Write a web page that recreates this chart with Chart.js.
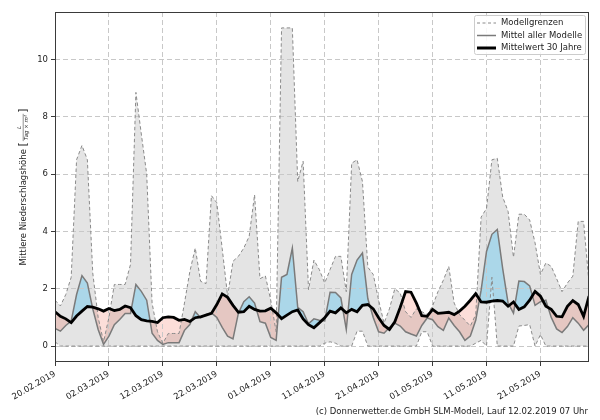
<!DOCTYPE html>
<html><head><meta charset="utf-8">
<script src="https://cdn.jsdelivr.net/npm/chart.js@4.4.1/dist/chart.umd.min.js"></script>
<style>html,body{margin:0;padding:0;background:#fff}</style>
</head><body>
<canvas id="c" width="600" height="420"></canvas>
<script>
// ---- data (one value per day, starting 20.02.2019) ----
const xTickDays   = [0,10,20,30,40,50,60,70,80,90];
const xTickLabels = ['20.02.2019','02.03.2019','12.03.2019','22.03.2019','01.04.2019','11.04.2019','21.04.2019','01.05.2019','11.05.2019','21.05.2019'];
const yTicks      = [0,2,4,6,8,10];

const upper = [1.6,1.4,1.8,2.4,6.5,7.0,6.5,2.55,1.0,0.15,
               1.0,2.15,2.15,2.15,2.85,8.85,7.4,6.0,1.5,0.5,
               0.1,0.44,0.44,0.44,1.5,2.6,3.42,2.26,2.18,5.25,
               5.0,3.4,1.75,2.96,3.13,3.42,3.83,5.28,2.35,2.45,
               1.6,0.5,11.1,11.1,11.1,5.74,6.45,1.97,3.0,2.67,
               2.2,2.67,3.13,3.13,1.9,6.38,6.5,5.74,2.75,2.5,
               1.6,0.8,1.3,2.0,1.85,1.2,1.0,1.3,1.2,1.1,
               1.4,1.9,2.3,2.78,1.5,1.1,0.9,0.7,1.1,4.5,
               4.8,6.5,6.55,5.2,4.7,3.1,4.6,4.6,4.4,3.6,
               2.5,2.9,2.78,2.35,1.9,2.2,2.44,4.35,4.35,2.2];

const lower = [0.15,0,0,0,0,0,0,0,0,0,
               0,0,0,0,0,0,0,0,0,0,
               0,0,0,0,0,0,0,0,0,0,
               0,0,0,0,0,0,0,0,0,0,
               0,0,0,0,0,0,0,0,0,0,
               0.1,0.15,0.1,0,0,0,0.52,0.52,0,0,
               0,0,0,0,0,0,0,0,0.5,0.5,
               0,0,0,0,0,0,0,0,0.1,0.2,
               0,2.4,0,0,0,0,0.7,0.72,0.75,0,
               0.4,0,0,0,0,0,0,0,0,0];

const modelMean = [0.62,0.52,0.72,0.87,1.8,2.46,2.2,1.3,0.58,0.06,
                   0.35,0.75,0.93,1.14,1.14,2.15,1.91,1.6,0.45,0.2,
                   0.06,0.12,0.12,0.12,0.55,0.75,1.2,0.99,1.1,1.16,
                   1.0,0.65,0.35,0.25,1.15,1.55,1.72,1.5,0.85,0.8,
                   0.3,0.2,2.4,2.5,3.42,1.35,1.2,0.78,0.95,0.9,
                   0.88,1.88,1.87,1.68,0.58,2.5,3.0,3.25,1.65,1.0,
                   0.5,0.45,0.65,0.8,0.7,0.5,0.42,0.35,0.72,0.98,
                   0.92,0.68,0.55,0.98,0.72,0.5,0.2,0.35,0.9,1.95,
                   3.3,3.9,4.07,2.7,1.5,1.15,2.27,2.25,2.1,1.42,
                   1.55,1.6,1.0,0.6,0.47,0.68,0.99,0.8,0.55,0.75];

const climMean = [1.2,1.04,0.95,0.82,1.05,1.22,1.38,1.36,1.3,1.22,
                  1.31,1.24,1.28,1.4,1.34,1.06,0.92,0.88,0.86,0.82,
                  0.99,1.02,1.0,0.9,0.93,0.86,0.99,1.02,1.08,1.14,
                  1.45,1.82,1.7,1.42,1.18,1.2,1.39,1.28,1.22,1.23,
                  1.32,1.16,0.96,1.08,1.2,1.26,0.95,0.75,0.64,0.81,
                  0.99,1.22,1.16,1.33,1.16,1.28,1.2,1.42,1.45,1.3,
                  0.99,0.72,0.58,0.85,1.35,1.9,1.88,1.5,1.06,1.04,
                  1.28,1.14,1.16,1.18,1.1,1.22,1.39,1.6,1.83,1.54,
                  1.53,1.57,1.59,1.57,1.39,1.54,1.28,1.37,1.6,1.91,
                  1.74,1.39,1.28,1.04,1.02,1.39,1.59,1.45,1.04,1.74];

const FONT = '"DejaVu Sans", sans-serif';
const FS = 8.5;
const toXY = arr => arr.map((v, i) => ({x: i, y: v}));

const framePlugin = {
  id: 'frame',
  afterDraw(chart) {
    const {ctx, chartArea: a} = chart;
    ctx.save();
    ctx.strokeStyle = '#3a3a3a';
    ctx.lineWidth = 1;
    ctx.strokeRect(Math.round(a.left) + 0.5, Math.round(a.top) + 0.5,
                   Math.round(a.right - a.left) - 1, Math.round(a.bottom - a.top) - 1);
    ctx.restore();
  }
};

const legendPlugin = {
  id: 'customLegend',
  afterDraw(chart) {
    const {ctx, chartArea: a} = chart;
    const items = [
      {text: 'Modellgrenzen', color: '#8a8a8a', width: 1, dash: [3, 2.5]},
      {text: 'Mittel aller Modelle', color: '#7a7a7a', width: 1.5, dash: []},
      {text: 'Mittelwert 30 Jahre', color: '#000', width: 3, dash: []}
    ];
    const bx = a.right - 115, by = a.top + 3, bw = 111, bh = 39;
    ctx.save();
    ctx.fillStyle = 'rgba(255,255,255,0.85)';
    ctx.strokeStyle = '#cccccc';
    ctx.lineWidth = 1;
    ctx.beginPath();
    if (ctx.roundRect) ctx.roundRect(bx + 0.5, by + 0.5, bw, bh, 2); else ctx.rect(bx + 0.5, by + 0.5, bw, bh);
    ctx.fill(); ctx.stroke();
    ctx.font = FS + 'px ' + FONT;
    ctx.textBaseline = 'middle';
    ctx.textAlign = 'left';
    items.forEach((it, i) => {
      const y = by + 8 + i * 12.5;
      ctx.beginPath();
      ctx.setLineDash(it.dash);
      ctx.strokeStyle = it.color;
      ctx.lineWidth = it.width;
      ctx.moveTo(bx + 3, y); ctx.lineTo(bx + 22, y);
      ctx.stroke();
      ctx.setLineDash([]);
      ctx.fillStyle = '#222';
      ctx.fillText(it.text, bx + 27, y);
    });
    ctx.restore();
  }
};

const yTitlePlugin = {
  id: 'yTitle',
  afterDraw(chart) {
    const {ctx, chartArea: a} = chart;
    const main = 'Mittlere Niederschlagshöhe ';
    const num = 'L', den = 'Tag × m²';
    ctx.save();
    ctx.translate(23, (a.top + a.bottom) / 2);
    ctx.rotate(-Math.PI / 2);
    ctx.fillStyle = '#222';
    ctx.textBaseline = 'middle';
    ctx.textAlign = 'left';
    ctx.font = FS + 'px ' + FONT;
    const wMain = ctx.measureText(main).width;
    ctx.font = '11px ' + FONT;
    const wBr = ctx.measureText('[').width;
    ctx.font = 'italic 5.5px ' + FONT;
    const wFrac = Math.max(ctx.measureText(num).width, ctx.measureText(den).width) + 2;
    const total = wMain + 2 * wBr + wFrac + 2;
    let x = -total / 2;
    ctx.font = FS + 'px ' + FONT;
    ctx.fillText(main, x, 0.5); x += wMain;
    ctx.font = '11px ' + FONT;
    ctx.fillText('[', x, 0); x += wBr + 1;
    ctx.font = 'italic 5.5px ' + FONT;
    ctx.textAlign = 'center';
    const cx = x + wFrac / 2;
    ctx.fillText(num, cx, -3.4);
    ctx.fillText(den, cx, 3.8);
    ctx.beginPath(); ctx.strokeStyle = '#222'; ctx.lineWidth = 0.5;
    ctx.moveTo(x, 0.2); ctx.lineTo(x + wFrac, 0.2); ctx.stroke();
    x += wFrac + 1;
    ctx.textAlign = 'left';
    ctx.font = '11px ' + FONT;
    ctx.fillText(']', x, 0);
    ctx.restore();
  }
};

const footerPlugin = {
  id: 'footer',
  afterDraw(chart) {
    const ctx = chart.ctx;
    ctx.save();
    ctx.font = FS + 'px ' + FONT;
    ctx.fillStyle = '#222';
    ctx.textAlign = 'right';
    ctx.textBaseline = 'middle';
    ctx.fillText('(c) Donnerwetter.de GmbH SLM-Modell, Lauf 12.02.2019 07 Uhr', 588, 412);
    ctx.restore();
  }
};

const gridCommon = {color: '#c8c8c8', lineWidth: 1, tickLength: 4, tickColor: '#3a3a3a', tickWidth: 1, tickBorderDash: []};

new Chart(document.getElementById('c'), {
  type: 'line',
  data: {
    datasets: [
      {label: 'Modellgrenzen', data: toXY(upper), borderColor: '#8a8a8a', borderWidth: 1, borderDash: [3.5, 2.5],
       backgroundColor: '#e4e4e4', fill: '+1', pointRadius: 0, tension: 0, order: 2},
      {label: 'Modellgrenzen unten', data: toXY(lower), borderColor: '#8a8a8a', borderWidth: 1, borderDash: [3.5, 2.5],
       fill: false, pointRadius: 0, tension: 0, order: 3},
      {label: 'Mittel aller Modelle', data: toXY(modelMean), borderColor: '#7a7a7a', borderWidth: 1.5,
       fill: {target: 3, above: 'rgba(135,206,235,0.62)', below: 'rgba(240,60,30,0.17)'},
       pointRadius: 0, tension: 0, order: 1},
      {label: 'Mittelwert 30 Jahre', data: toXY(climMean), borderColor: '#000000', borderWidth: 2.8,
       fill: false, pointRadius: 0, tension: 0, order: 0}
    ]
  },
  options: {
    responsive: false,
    animation: false,
    devicePixelRatio: 1,
    layout: {padding: {left: 0, right: 11, top: 12, bottom: 0}},
    plugins: {legend: {display: false}, tooltip: {enabled: false}, filler: {drawTime: 'beforeDraw'}},
    scales: {
      x: {
        type: 'linear', min: 0, max: 99,
        afterBuildTicks: s => { s.ticks = xTickDays.map(v => ({value: v})); },
        afterFit: s => { s.height = 58; s.paddingLeft = 0; s.paddingRight = 0; },
        ticks: {autoSkip: false, minRotation: 30, maxRotation: 30, padding: 3, color: '#222',
                font: {family: FONT, size: FS},
                callback: v => { const i = xTickDays.indexOf(v); return i >= 0 ? xTickLabels[i] : ''; }},
        grid: gridCommon,
        border: {display: false, dash: [5, 3]}
      },
      y: {
        type: 'linear', min: -0.555, max: 11.655,
        afterBuildTicks: s => { s.ticks = yTicks.map(v => ({value: v})); },
        afterFit: s => { s.width = 55; s.paddingTop = 0; s.paddingBottom = 0; },
        ticks: {padding: 3, color: '#222', font: {family: FONT, size: FS}},
        grid: gridCommon,
        border: {display: false, dash: [5, 3]}
      }
    }
  },
  plugins: [framePlugin, legendPlugin, yTitlePlugin, footerPlugin]
});
</script>
</body></html>
